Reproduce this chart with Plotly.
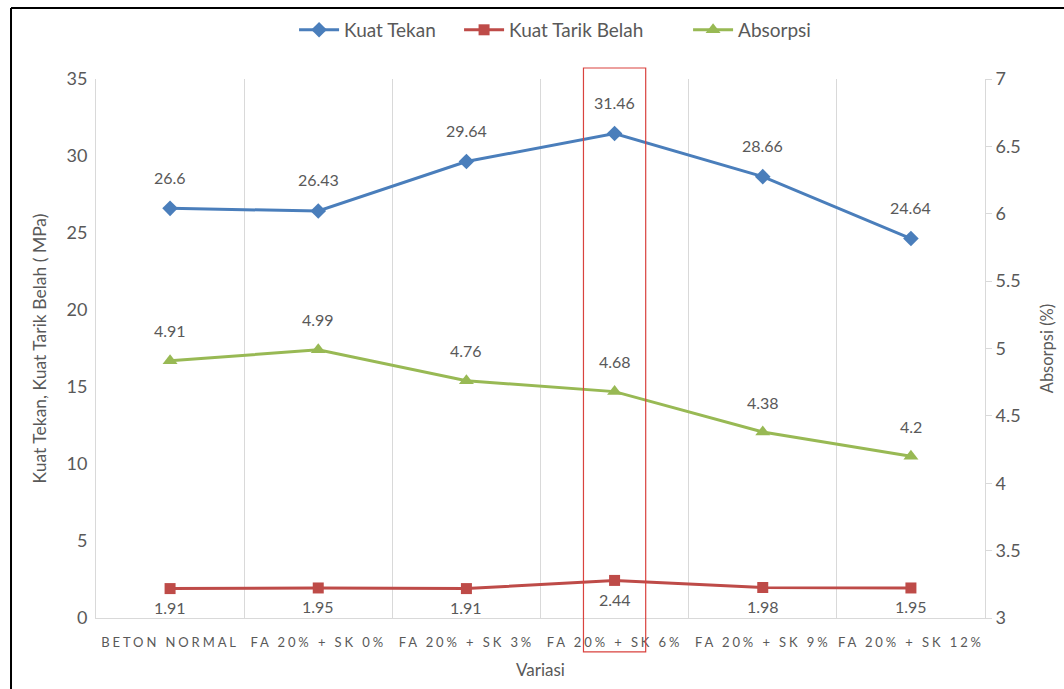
import plotly.graph_objects as go

categories = ["BETON NORMAL", "FA 20% + SK 0%", "FA 20% + SK 3%",
              "FA 20% + SK 6%", "FA 20% + SK 9%", "FA 20% + SK 12%"]
kuat_tekan = [26.6, 26.43, 29.64, 31.46, 28.66, 24.64]
kuat_tarik_belah = [1.91, 1.95, 1.91, 2.44, 1.98, 1.95]
absorpsi = [4.91, 4.99, 4.76, 4.68, 4.38, 4.2]

FONT = "Lato, Open Sans, sans-serif"
GRAY = "#595959"
BLUE = "#4A7EBB"
RED = "#BE4B48"
GREEN = "#98B954"

tick_text = [f'<span style="letter-spacing:2.9px">{c}</span>' for c in categories]

fig = go.Figure()
fig.add_trace(go.Scatter(x=categories, y=kuat_tekan, name="Kuat Tekan",
                         mode="lines+markers", legend="legend",
                         line=dict(color=BLUE, width=3),
                         marker=dict(symbol="diamond", size=12, color=BLUE)))
fig.add_trace(go.Scatter(x=categories, y=kuat_tarik_belah, name="Kuat Tarik Belah",
                         mode="lines+markers", legend="legend2",
                         line=dict(color=RED, width=3),
                         marker=dict(symbol="square", size=11, color=RED)))
fig.add_trace(go.Scatter(x=categories, y=absorpsi, name="Absorpsi",
                         mode="lines+markers", yaxis="y2", legend="legend3",
                         line=dict(color=GREEN, width=3),
                         marker=dict(symbol="triangle-up", size=13, color=GREEN)))

LBL = dict(family=FONT, size=16, color=GRAY)
annotations = []
for c, v in zip(categories, kuat_tekan):
    annotations.append(dict(x=c, y=v, xref="x", yref="y", text=str(v), showarrow=False,
                            yshift=31, font=LBL))
for c, v in zip(categories, kuat_tarik_belah):
    annotations.append(dict(x=c, y=v, xref="x", yref="y", text=str(v), showarrow=False,
                            yshift=-19, font=LBL))
for c, v in zip(categories, absorpsi):
    annotations.append(dict(x=c, y=v, xref="x", yref="y2", text=str(v), showarrow=False,
                            yshift=30, font=LBL))

shapes = [
    # highlight box around FA 20% + SK 6%
    dict(type="rect", xref="x", yref="paper", x0=2.79, x1=3.21, y0=-0.063, y1=1.0204,
         line=dict(color="#D9423E", width=1.2), fillcolor="rgba(0,0,0,0)", layer="above"),
    # outer frame (left and top edges)
    dict(type="line", xref="paper", yref="paper", x0=-0.0956, x1=-0.0956, y0=-0.2, y1=1.1317,
         line=dict(color="black", width=2)),
    dict(type="line", xref="paper", yref="paper", x0=-0.0956, x1=1.2, y0=1.1317, y1=1.1317,
         line=dict(color="black", width=2)),
]

def leg(xpos):
    return dict(orientation="h", x=xpos, xanchor="left", y=1.091, yanchor="middle",
                font=dict(family=FONT, size=19, color=GRAY), itemwidth=40,
                bgcolor="rgba(0,0,0,0)")

fig.update_layout(
    width=1064, height=689,
    margin=dict(l=96, r=79, t=79, b=71, autoexpand=False),
    paper_bgcolor="white", plot_bgcolor="white",
    font=dict(family=FONT, color=GRAY, size=16),
    showlegend=True,
    legend=leg(0.2228),
    legend2=leg(0.4084),
    legend3=leg(0.6660),
    xaxis=dict(type="category", tickvals=categories, ticktext=tick_text,
               tickson="boundaries", showgrid=True, gridcolor="#D9D9D9", gridwidth=1,
               showline=True, linecolor="#D9D9D9", linewidth=1, ticks="",
               tickfont=dict(family=FONT, size=13, color=GRAY),
               tickangle=0, automargin=False,
               ticklabelstandoff=12,
               range=[-0.5, 5.5],
               title=dict(text="Variasi", font=dict(family=FONT, size=17, color=GRAY), standoff=15)),
    yaxis=dict(range=[0, 35], dtick=5, showgrid=False, zeroline=False,
               showline=True, linecolor="#D9D9D9", linewidth=1, ticks="",
               tickfont=dict(family=FONT, size=18, color=GRAY),
               ticklabelstandoff=4, automargin=False,
               title=dict(text="Kuat Tekan, Kuat Tarik Belah ( MPa)",
                          font=dict(family=FONT, size=17.5, color=GRAY), standoff=15)),
    yaxis2=dict(range=[3, 7], dtick=0.5, overlaying="y", side="right", showgrid=False,
                zeroline=False, showline=True, linecolor="#D9D9D9", linewidth=1,
                ticks="outside", ticklen=6, tickcolor="#D9D9D9",
                tickfont=dict(family=FONT, size=18, color=GRAY), automargin=False,
                title=dict(text="Absorpsi (%)", font=dict(family=FONT, size=16.5, color=GRAY),
                           standoff=21)),
    annotations=annotations,
    shapes=shapes,
)

fig.write_html("out.html", config={"displayModeBar": False})

# remove the default page margin so the figure sits at the window's top-left corner
with open("out.html", "r", encoding="utf-8") as f:
    html = f.read()
html = html.replace("<head>", "<head><style>html,body{margin:0;padding:0;}</style>", 1)
with open("out.html", "w", encoding="utf-8") as f:
    f.write(html)
